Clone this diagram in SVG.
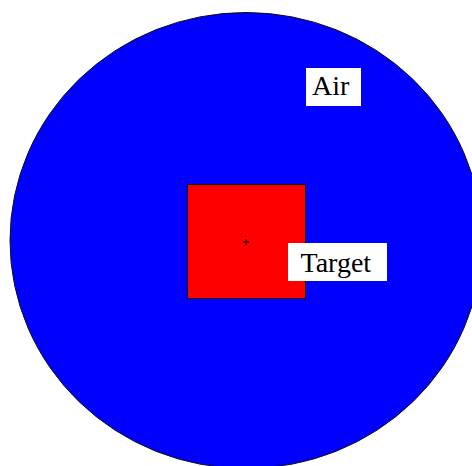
<svg xmlns="http://www.w3.org/2000/svg" width="472" height="466" viewBox="0 0 472 466">
  <style>
    .lbl { font-family: "Liberation Serif", "Times New Roman", serif; font-size: 28px; fill: #000; }
    .box { fill: #fff; stroke: none; }
  </style>
  <rect x="0" y="0" width="472" height="466" fill="#fff"/>
  <g id="air">
    <ellipse cx="246" cy="240.5" rx="236" ry="228" fill="#0000ff" stroke="#111" stroke-width="1"/>
  </g>
  <g id="target">
    <rect x="187.5" y="184.5" width="118" height="114" fill="#ff0000" stroke="#111" stroke-width="1"/>
    <path d="M243 242H249M246 239V245" stroke="#000" stroke-width="1" fill="none"/>
  </g>
  <g id="connectors"></g>
  <g id="label-air">
    <rect class="box" x="306" y="68" width="55" height="38"/>
    <text class="lbl" x="312" y="95">Air</text>
  </g>
  <g id="label-target">
    <rect class="box" x="288" y="243" width="99" height="38"/>
    <text class="lbl" x="300.5" y="271.5">Target</text>
  </g>
</svg>
